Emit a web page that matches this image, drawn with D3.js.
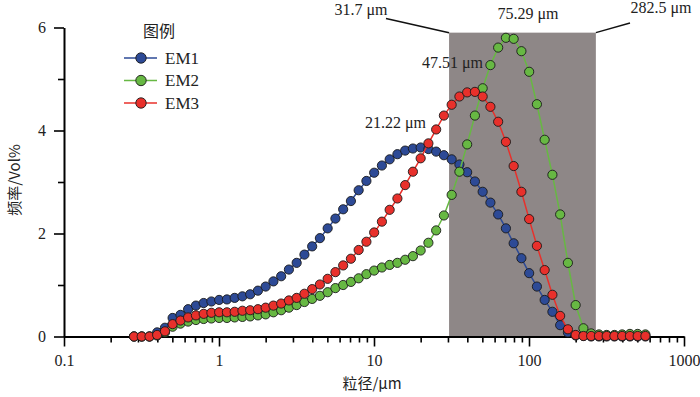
<!DOCTYPE html>
<html><head><meta charset="utf-8">
<script src="https://cdn.jsdelivr.net/npm/d3@7"></script>
<style>body{margin:0;background:#fff}svg{display:block}
.sf{font-family:"Liberation Serif",Tinos,"Times New Roman",Times,"DejaVu Serif",serif}
.cj{font-family:"Noto Sans CJK SC","Noto Sans",sans-serif}
</style>
</head><body><svg id="c" width="700" height="397"></svg>
<script>
const sizes = [0.283,0.317,0.356,0.399,0.448,0.502,0.564,0.632,0.710,0.796,0.893,1.002,1.125,1.262,1.416,1.589,1.783,2.000,2.244,2.518,2.825,3.170,3.557,3.991,4.477,5.024,5.637,6.325,7.096,7.962,8.934,10.024,11.247,12.619,14.159,15.887,17.825,20.000,22.440,25.179,28.251,31.698,35.566,39.905,44.774,50.238,56.368,63.246,70.963,79.621,89.337,100.237,112.468,126.191,141.589,158.866,178.250,200.000,224.404,251.785,282.508,316.979,355.656,399.052,447.744,502.377,563.677];
const em1 = [0,0,0,0.08,0.17,0.36,0.42,0.53,0.60,0.65,0.68,0.71,0.72,0.75,0.78,0.82,0.89,0.97,1.07,1.17,1.30,1.43,1.59,1.75,1.91,2.10,2.29,2.47,2.63,2.84,3.02,3.18,3.32,3.44,3.54,3.61,3.65,3.67,3.64,3.59,3.52,3.44,3.34,3.19,3.01,2.81,2.60,2.37,2.10,1.81,1.52,1.23,0.97,0.71,0.48,0.22,0.08,0.02,0.01,0,0,0,0,0,0,0,0];
const em2 = [0,0,0,0.02,0.08,0.19,0.25,0.29,0.32,0.34,0.35,0.36,0.36,0.37,0.38,0.39,0.41,0.43,0.47,0.51,0.56,0.61,0.67,0.73,0.79,0.86,0.94,1.00,1.06,1.13,1.21,1.28,1.34,1.39,1.43,1.49,1.56,1.67,1.82,2.06,2.35,2.75,3.20,3.73,4.29,4.82,5.27,5.61,5.80,5.78,5.54,5.14,4.51,3.82,3.14,2.37,1.43,0.61,0.16,0.06,0.04,0.03,0.03,0.04,0.05,0.05,0.04];
const em3 = [0,0,0,0.03,0.10,0.24,0.31,0.37,0.41,0.44,0.46,0.47,0.47,0.48,0.50,0.51,0.53,0.56,0.60,0.64,0.70,0.75,0.83,0.92,1.01,1.12,1.25,1.38,1.51,1.68,1.84,2.02,2.23,2.46,2.68,2.94,3.20,3.46,3.75,4.02,4.29,4.50,4.66,4.74,4.75,4.66,4.46,4.17,3.78,3.31,2.81,2.28,1.76,1.29,0.81,0.40,0.14,0.03,0.01,0.01,0.01,0.01,0.01,0.01,0.01,0.01,0.01];
const seriesNames = ["EM1","EM2","EM3"];
const xTicks = [0.1,1,10,100,1000];
const yTicks = [0,2,4,6];
const yMinor = [1,3,5];
const bandRange = [30.5, 270];
const bandTop = 5.9;
const bandLabels = ["31.7 μm","282.5 μm"];
const modeLabels = ["75.29 μm","47.51 μm","21.22 μm"];

const svg = d3.select("#c");
const x = d3.scaleLog().domain([0.1,1000]).range([64,684]);
const y = d3.scaleLinear().domain([0,6]).range([336.5,27.5]);

svg.append("rect").attr("x", x(bandRange[0])).attr("y", y(bandTop))
  .attr("width", x(bandRange[1]) - x(bandRange[0])).attr("height", y(0) - y(bandTop))
  .attr("fill", "#8e8787");

svg.append("line").attr("x1", 386).attr("y1", 18.5).attr("x2", x(bandRange[0])).attr("y2", y(bandTop)).attr("stroke","#111").attr("stroke-width",1.5);
svg.append("line").attr("x1", x(bandRange[1])).attr("y1", y(bandTop)).attr("x2", 630).attr("y2", 23).attr("stroke","#111").attr("stroke-width",1.5);

const minorX = [];
[0.1,1,10,100].forEach(d => { for (let i=2;i<=9;i++) minorX.push(d*i); });
const gx = svg.append("g").attr("transform", `translate(0,${y(0)})`);
gx.call(d3.axisBottom(x).tickValues(minorX).tickSize(6).tickSizeOuter(0).tickFormat(""));
gx.call(g => g.select(".domain").remove());
const gx2 = svg.append("g").attr("transform", `translate(0,${y(0)})`);
gx2.call(d3.axisBottom(x).tickValues(xTicks).tickSize(10).tickSizeOuter(0).tickPadding(8).tickFormat(d => String(d)));
const gy = svg.append("g").attr("transform", "translate(64,0)");
gy.call(d3.axisLeft(y).tickValues(yMinor).tickSize(6).tickSizeOuter(0).tickFormat(""));
gy.call(g => g.select(".domain").remove());
const gy2 = svg.append("g").attr("transform", "translate(64,0)");
gy2.call(d3.axisLeft(y).tickValues(yTicks).tickSize(10).tickSizeOuter(0).tickPadding(8).tickFormat(d3.format("d")));
[gx, gx2, gy, gy2].forEach(g => {
  g.attr("font-family", null).attr("font-size", null);
  g.selectAll("line").attr("stroke","#000").attr("stroke-width",1.6);
  g.selectAll("path").attr("stroke","#000").attr("stroke-width",2);
  g.selectAll("text").attr("class","sf").style("font-size","16px").attr("fill","#222");
});

const colors = {EM1:"#2d4a96", EM2:"#67b843", EM3:"#e8302b"};
const data = {EM1:em1, EM2:em2, EM3:em3};
const line = d3.line().x(d => x(d[0])).y(d => y(d[1]));
seriesNames.forEach(name => {
  const pts = sizes.map((s,i) => [s, data[name][i]]);
  svg.append("path").datum(pts).attr("d", line).attr("fill","none")
    .attr("stroke", colors[name]).attr("stroke-width", 1.5);
  svg.append("g").selectAll("circle").data(pts).join("circle")
    .attr("cx", d => x(d[0])).attr("cy", d => y(d[1])).attr("r", 4.6)
    .attr("fill", colors[name]).attr("stroke", "#1a1a1a").attr("stroke-width", 0.9);
});

const ann = svg.append("g").attr("class","sf").style("font-size","16px").attr("fill","#222");
ann.append("text").attr("x", 361).attr("y", 15).attr("text-anchor","middle").text(bandLabels[0]);
ann.append("text").attr("x", 661).attr("y", 13).attr("text-anchor","middle").text(bandLabels[1]);
ann.append("text").attr("x", 528).attr("y", 19).attr("text-anchor","middle").text(modeLabels[0]);
ann.append("text").attr("x", 483).attr("y", 68).attr("text-anchor","end").text(modeLabels[1]);
ann.append("text").attr("x", 426).attr("y", 128).attr("text-anchor","end").text(modeLabels[2]);

const lg = svg.append("g");
lg.append("text").attr("class","cj").attr("x", 143).attr("y", 37).style("font-size","16px").attr("fill","#222").text("图例");
seriesNames.forEach((name, i) => {
  const yy = 58 + i * 22.5;
  lg.append("line").attr("x1", 124).attr("x2", 157).attr("y1", yy).attr("y2", yy).attr("stroke", colors[name]).attr("stroke-width", 1.5);
  lg.append("circle").attr("cx", 141).attr("cy", yy).attr("r", 5.2).attr("fill", colors[name]).attr("stroke","#1a1a1a").attr("stroke-width",0.9);
  lg.append("text").attr("class","sf").attr("x", 165).attr("y", yy + 5.5).style("font-size","17px").attr("fill","#222").text(name);
});

svg.append("text").attr("x", 372).attr("y", 389).attr("text-anchor","middle")
  .attr("class","cj").style("font-size","15px").attr("fill","#222")
  .text("粒径/μm");
svg.append("text").attr("transform","translate(20,180) rotate(-90)").attr("text-anchor","middle")
  .attr("class","cj").style("font-size","15px").attr("fill","#222")
  .text("频率/Vol%");
</script></body></html>
